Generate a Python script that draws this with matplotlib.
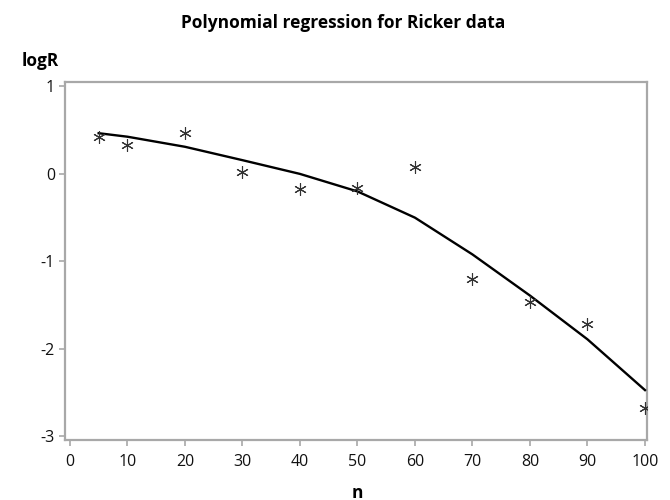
import matplotlib
matplotlib.use("Agg")
import matplotlib.pyplot as plt

# Observed data
n_obs = [5, 10, 20, 30, 40, 50, 60, 70, 80, 90, 100]
logR_obs = [0.42, 0.33, 0.47, 0.02, -0.175, -0.16, 0.075, -1.20, -1.46, -1.72, -2.68]

# Fitted polynomial values at each n
logR_fit = [0.465, 0.425, 0.31, 0.157, 0.0, -0.2, -0.5, -0.92, -1.39, -1.89, -2.47]

x_ticks = [0, 10, 20, 30, 40, 50, 60, 70, 80, 90, 100]
y_ticks = [-3, -2, -1, 0, 1]

plt.rcParams['font.family'] = ['Open Sans', 'DejaVu Sans']
plt.rcParams['axes.unicode_minus'] = False

fig = plt.figure(figsize=(6.7, 5.0), dpi=100)
ax = fig.add_axes([0.0966, 0.12, 0.8695, 0.716])

ax.plot(n_obs, logR_fit, color='black', lw=1.7, zorder=3)
ax.plot(n_obs, logR_obs, linestyle='none', marker=(6, 2, 0), markersize=9,
        markeredgecolor='#333333', markeredgewidth=0.8, zorder=4)

ax.set_xlim(-0.9, 100.4)
ax.set_ylim(-3.04, 1.05)
ax.set_xticks(x_ticks)
ax.set_yticks(y_ticks)

for s in ax.spines.values():
    s.set_color('#a8a8a8')
    s.set_linewidth(1.6)

ax.tick_params(axis='both', direction='out', length=4, width=1.2, color='#a8a8a8',
               labelsize=11.5, labelcolor='#111111', pad=3)
ax.tick_params(axis='x', pad=6)

fig.text(0.512, 0.954, 'Polynomial regression for Ricker data', ha='center', va='center',
         fontsize=12.5, fontweight='bold')
fig.text(0.06, 0.878, 'logR', ha='center', va='center', fontsize=12.5, fontweight='bold')
fig.text(0.533, 0.015, 'n', ha='center', va='center', fontsize=12.5, fontweight='bold')

fig.savefig('out.png', dpi=100, facecolor='white')
